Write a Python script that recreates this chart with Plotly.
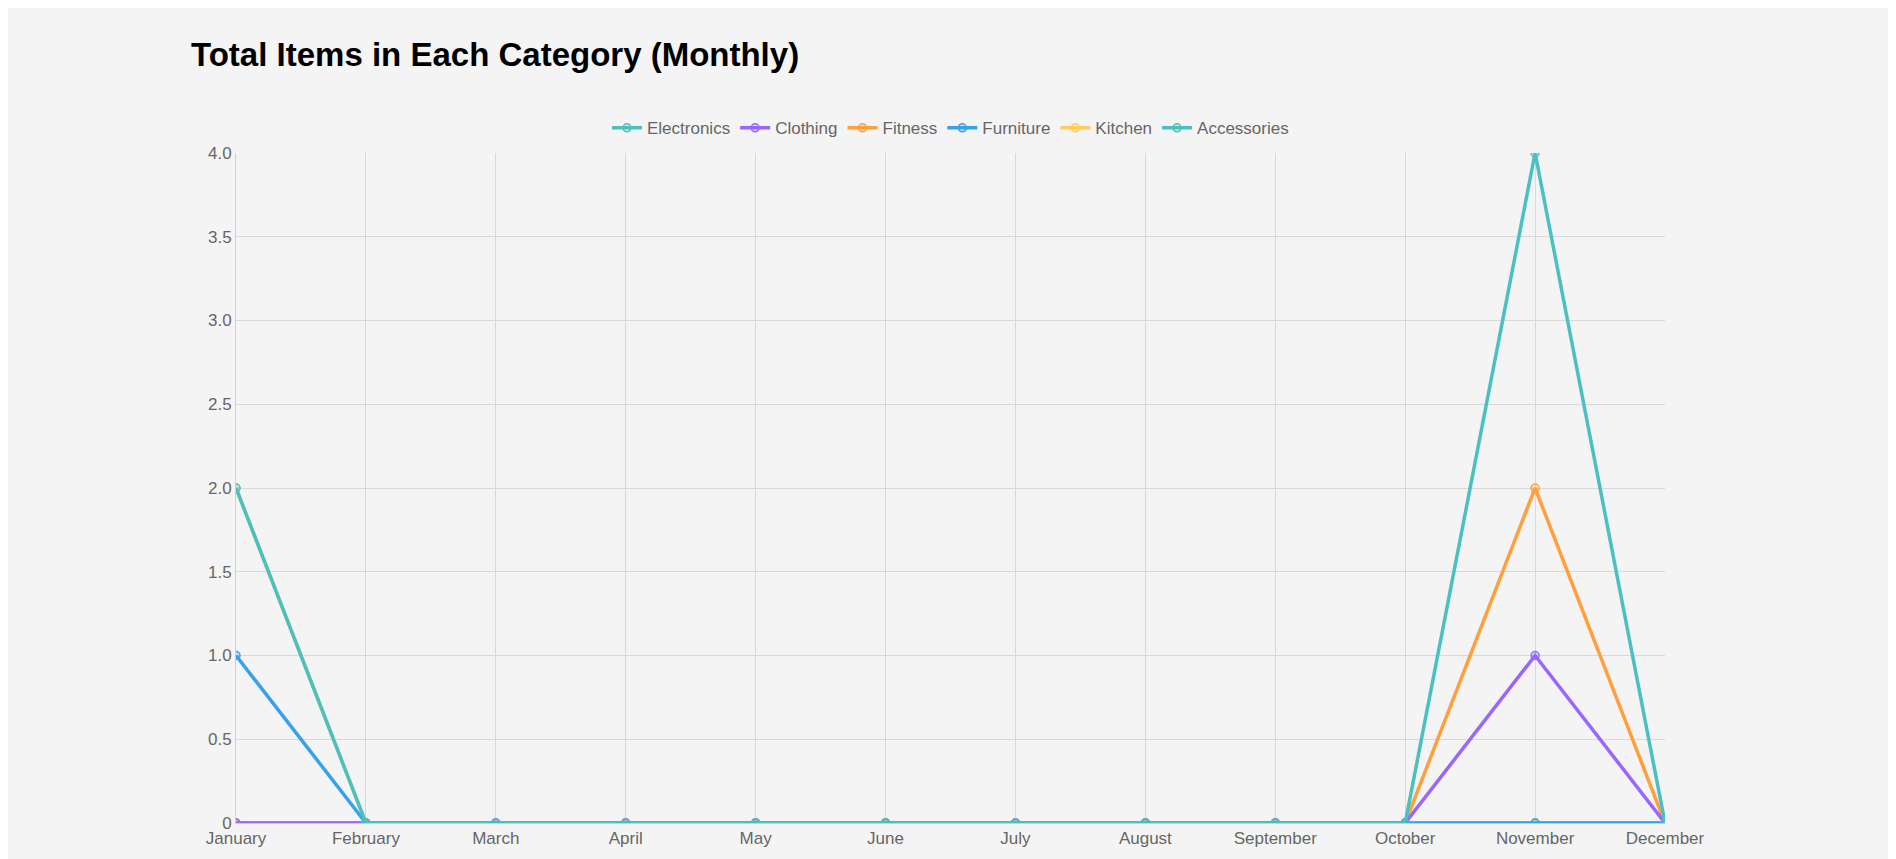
import plotly.graph_objects as go

months = ["January","February","March","April","May","June","July","August","September","October","November","December"]
electronics = [2,0,0,0,0,0,0,0,0,0,4,0]
clothing    = [0,0,0,0,0,0,0,0,0,0,1,0]
fitness     = [0,0,0,0,0,0,0,0,0,0,2,0]
furniture   = [1,0,0,0,0,0,0,0,0,0,0,0]
kitchen     = [2,0,0,0,0,0,0,0,0,0,0,0]
accessories = [0,0,0,0,0,0,0,0,0,0,0,0]
series = [("Electronics", electronics, "#4bc0c0", "rgba(75,192,192,0.2)"),
          ("Clothing", clothing, "#9966ff", "rgba(153,102,255,0.2)"),
          ("Fitness", fitness, "#ff9f40", "rgba(255,159,64,0.2)"),
          ("Furniture", furniture, "#36a2eb", "rgba(54,162,235,0.2)"),
          ("Kitchen", kitchen, "#ffcd56", "rgba(255,205,86,0.2)"),
          ("Accessories", accessories, "#4bc0c0", "rgba(75,192,192,0.2)")]

fig = go.Figure()
# draw first dataset on top (like Chart.js): add in reverse, reverse legend order
for name, vals, c, f in reversed(series):
    fig.add_trace(go.Scatter(x=months, y=vals, name=name, mode="lines+markers",
        line=dict(color=c, width=3.5),
        marker=dict(size=8, color=f, line=dict(color=c, width=1.5))))

fig.update_layout(
    width=1896, height=859, paper_bgcolor="#f4f4f4", plot_bgcolor="#f4f4f4",
    font=dict(family="Arial, Liberation Sans", size=16, color="#666"),
    title=dict(text="<b>Total Items in Each Category (Monthly)</b>", x=183/1896, xanchor="left",
               y=1-46/859, yanchor="middle", font=dict(size=33, color="#000")),
    margin=dict(l=228, r=1896-1657, t=145, b=44),
    legend=dict(orientation="h", x=0.5, xanchor="center", y=1.01, yanchor="bottom",
                traceorder="reversed", font=dict(size=17, color="#666")),
    showlegend=True,
)
fig.update_xaxes(showgrid=True, gridcolor="#d9d9d9", showline=True, linecolor="#d0d0d0",
                 tickfont=dict(size=17), range=[0, 11], ticks="", automargin=False)
fig.update_yaxes(showgrid=True, gridcolor="#d9d9d9", range=[0, 4], zeroline=False,
                 tickvals=[0,0.5,1,1.5,2,2.5,3,3.5,4],
                 ticktext=["0","0.5","1.0","1.5","2.0","2.5","3.0","3.5","4.0"],
                 showline=True, linecolor="#d0d0d0", tickfont=dict(size=17), automargin=False)
fig.write_html("out.html")
